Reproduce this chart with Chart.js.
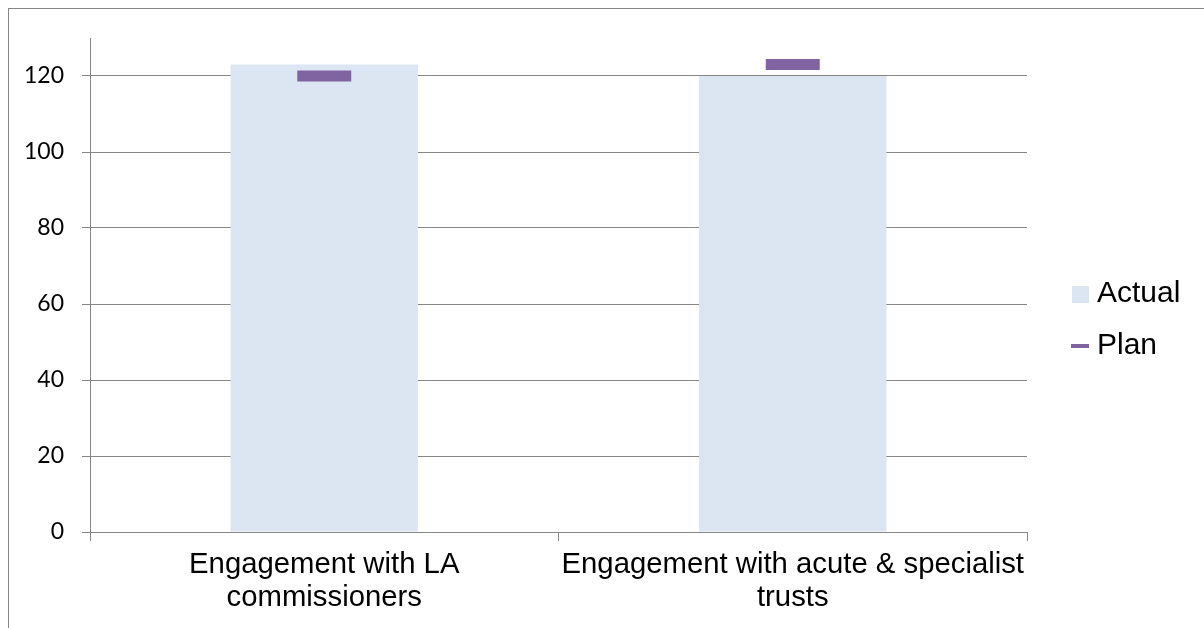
<!DOCTYPE html>
<html>
<head>
<meta charset="utf-8">
<script src="https://cdn.jsdelivr.net/npm/chart.js@4.4.1/dist/chart.umd.min.js"></script>
<style>
  html, body { margin: 0; padding: 0; background: #ffffff; }
  #wrap { width: 1204px; height: 628px; position: relative; }
</style>
</head>
<body>
<div id="wrap"><canvas id="c" width="1204" height="628"></canvas></div>
<script>
const categories = [
  ["Engagement with LA", "commissioners"],
  ["Engagement with acute & specialist", "trusts"]
];
const actualValues = [123, 120];
const planValues = [120, 123];
const yTickValues = [0, 20, 40, 60, 80, 100, 120];
const legendLabels = ["Actual", "Plan"];

const GRID = '#868686';
const BAR = '#DCE6F2';
const PLAN = '#8064A2';

const decor = {
  id: 'decor',
  afterDraw(chart) {
    const ctx = chart.ctx;
    ctx.save();
    // outer frame
    ctx.strokeStyle = GRID;
    ctx.lineWidth = 1;
    ctx.strokeRect(8.5, 8.5, 1300, 700);
    // legend
    ctx.font = '30px "Liberation Sans", Arial, sans-serif';
    ctx.textBaseline = 'middle';
    ctx.textAlign = 'left';
    ctx.fillStyle = BAR;
    ctx.fillRect(1072, 286, 17, 17);
    ctx.fillStyle = '#000';
    ctx.fillText(legendLabels[0], 1097, 294);
    ctx.fillStyle = PLAN;
    ctx.fillRect(1071, 344, 18, 4);
    ctx.fillStyle = '#000';
    ctx.fillText(legendLabels[1], 1097, 346);
    ctx.restore();
  }
};

new Chart(document.getElementById('c'), {
  data: {
    labels: categories,
    datasets: [
      {
        type: 'line',
        label: legendLabels[1],
        data: planValues,
        showLine: false,
        pointStyle: 'line',
        pointRadius: 27,
        pointHoverRadius: 27,
        pointBorderWidth: 11,
        pointHoverBorderWidth: 11,
        pointBorderColor: PLAN,
        pointBackgroundColor: PLAN,
        borderColor: PLAN,
        order: 0
      },
      {
        type: 'bar',
        label: legendLabels[0],
        data: actualValues,
        backgroundColor: BAR,
        borderWidth: 0,
        barPercentage: 0.4,
        categoryPercentage: 1.0,
        order: 1
      }
    ]
  },
  options: {
    responsive: false,
    animation: false,
    events: [],
    layout: { padding: { top: 37, right: 177, left: 0, bottom: 0 } },
    plugins: { legend: { display: false }, tooltip: { enabled: false } },
    scales: {
      x: {
        offset: true,
        grid: { display: true, drawOnChartArea: false, drawTicks: true, tickLength: 9, color: GRID, offset: true },
        border: { display: true, color: GRID },
        ticks: {
          color: '#000',
          padding: 7,
          maxRotation: 0,
          autoSkip: false,
          font: { family: '"Liberation Sans", Arial, sans-serif', size: 29.3, lineHeight: 1.13 }
        },
        afterFit(scale) { scale.height = 96; }
      },
      y: {
        min: 0,
        max: 130,
        grid: { color: GRID, tickLength: 8, drawTicks: true },
        border: { display: true, color: GRID },
        afterBuildTicks(scale) { scale.ticks = yTickValues.map(v => ({ value: v })); },
        ticks: {
          color: '#000',
          padding: 18,
          font: { family: 'Lato, sans-serif', size: 23 }
        },
        afterFit(scale) { scale.width = 90; }
      }
    }
  },
  plugins: [decor]
});
</script>
</body>
</html>
